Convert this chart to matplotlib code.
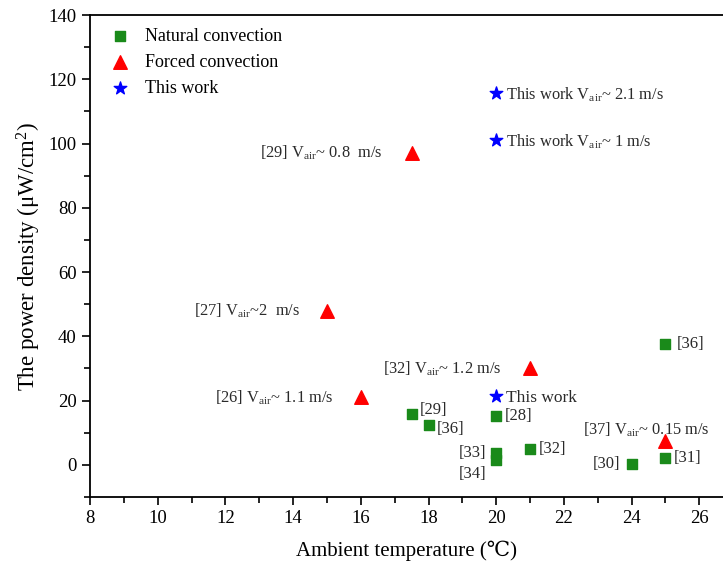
import matplotlib
matplotlib.use('Agg')
import matplotlib.pyplot as plt
from matplotlib.ticker import MultipleLocator

plt.rcParams['font.family'] = ['Liberation Serif', 'DejaVu Serif']
plt.rcParams['mathtext.fontset'] = 'custom'
plt.rcParams['mathtext.rm'] = 'Liberation Serif'
plt.rcParams['mathtext.it'] = 'Liberation Serif:italic'

# Natural convection (green squares)
nat_temp = [25, 17.5, 18, 20, 21, 20, 20, 24, 25]
nat_power = [37.5, 15.7, 12.3, 15.3, 5.0, 3.8, 1.5, 0.2, 2.2]
nat_labels = ['[36]', '[29]', '[36]', '[28]', '[32]', '[33]', '[34]', '[30]', '[31]']

# Forced convection (red triangles)
forced_temp = [17.5, 15, 16, 21, 25]
forced_power = [97, 48, 21, 30, 7.5]
forced_labels = [r'[29] V$_{\rm air}$~ 0.8  m/s', r'[27] V$_{\rm air}$~2  m/s',
                 r'[26] V$_{\rm air}$~ 1.1 m/s', r'[32] V$_{\rm air}$~ 1.2 m/s',
                 r'[37] V$_{\rm air}$~ 0.15 m/s']

# This work (blue stars)
work_temp = [20, 20, 20]
work_power = [115.6, 101, 21.3]
work_labels = [r'This work V$_{\rm air}$~ 2.1 m/s', r'This work V$_{\rm air}$~ 1 m/s', 'This work']

fig = plt.figure(figsize=(7.23, 5.67), dpi=100)
ax = fig.add_axes([0.1245, 0.1235, 0.8755, 0.85])

ax.scatter(nat_temp, nat_power, marker='s', s=62, color='#1a8a1a', label='Natural convection', zorder=3)
ax.scatter(forced_temp, forced_power, marker='^', s=95, color='#ff0000', label='Forced convection', zorder=3)
ax.scatter(work_temp, work_power, marker='*', s=90, color='#0000ff', label='This work', zorder=3)

txt = '#2a2a2a'
# label offsets in points (dx, dy, ha)
nat_off = [(8, 0, 'left'), (6, 3, 'left'), (6, -3, 'left'), (6, 0, 'left'), (6, 0, 'left'),
           (-7, 0, 'right'), (-7, -10, 'right'), (-8, 0, 'right'), (6, 0, 'left')]
for x, y, lab, (dx, dy, ha) in zip(nat_temp, nat_power, nat_labels, nat_off):
    ax.annotate(lab, (x, y), xytext=(dx, dy), textcoords='offset points',
                ha=ha, va='center', fontsize=12, color=txt)

forced_off = [(-21, 0, 'right'), (-19, 0, 'right'), (-20, 0, 'right'), (-21, 0, 'right'), (32, 8, 'right')]
for x, y, lab, (dx, dy, ha) in zip(forced_temp, forced_power, forced_labels, forced_off):
    ax.annotate(lab, (x, y), xytext=(dx, dy), textcoords='offset points',
                ha=ha, va='center', fontsize=11.8, color=txt)

for x, y, lab in zip(work_temp, work_power, work_labels):
    ax.annotate(lab, (x, y), xytext=(7, -1), textcoords='offset points',
                ha='left', va='center', fontsize=11.8 if lab != 'This work' else 12.5, color=txt)

ax.set_xlim(8, 26.7)
ax.set_ylim(-10, 140)
ax.xaxis.set_major_locator(MultipleLocator(2))
ax.xaxis.set_minor_locator(MultipleLocator(1))
ax.yaxis.set_major_locator(MultipleLocator(20))
ax.yaxis.set_minor_locator(MultipleLocator(10))
ax.tick_params(which='both', direction='out', top=False, right=False, labelsize=13.5, width=1.2)
ax.tick_params(which='major', length=6)
ax.tick_params(which='minor', length=4)
for sp in ax.spines.values():
    sp.set_linewidth(1.3)
ax.spines['right'].set_visible(False)

ax.set_xlabel('Ambient temperature (℃)', fontsize=15, labelpad=10)
ax.set_ylabel('The power density (μW/cm$^{2}$)', fontsize=16.5, labelpad=4)

ax.legend(loc='upper left', bbox_to_anchor=(0.01, 1.0), frameon=False, fontsize=13,
          handlelength=1.2, handletextpad=0.8, labelspacing=0.5, borderaxespad=0.3)

plt.savefig('out.png', dpi=100)
